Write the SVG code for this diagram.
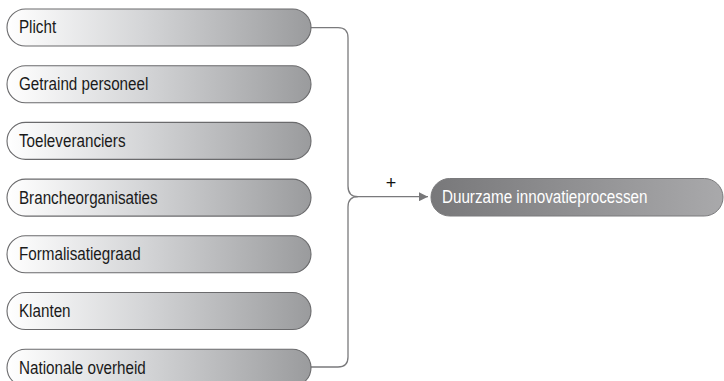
<svg xmlns="http://www.w3.org/2000/svg" width="724" height="381" viewBox="0 0 724 381">
<defs>
<linearGradient id="gSrc" x1="0" y1="0" x2="1" y2="0">
<stop offset="0" stop-color="#ffffff"/>
<stop offset="0.45" stop-color="#d4d5d7"/>
<stop offset="1" stop-color="#9a9b9d"/>
</linearGradient>
<linearGradient id="gTgt" x1="0" y1="0" x2="1" y2="0">
<stop offset="0" stop-color="#78787a"/>
<stop offset="1" stop-color="#a9a9ab"/>
</linearGradient>
<marker id="arr" viewBox="0 0 10 10" refX="10" refY="5" markerWidth="9" markerHeight="9" markerUnits="userSpaceOnUse" orient="auto">
<path d="M0,0 L10,5 L0,10 Z" fill="#777779"/>
</marker>
</defs>
<style>
.src{fill:url(#gSrc);stroke:#6a6a6c;stroke-width:1.1}
.tgt{fill:url(#gTgt);stroke:#7a7a7c;stroke-width:1}
.lbl{font-family:"Liberation Sans",Arial,sans-serif;font-size:17.5px;fill:#1a1a1a}
.tl{font-family:"Liberation Sans",Arial,sans-serif;font-size:17.5px;fill:#ffffff}
.con{fill:none;stroke:#7a7a7c;stroke-width:1.3}
.plus{font-family:"Liberation Sans",Arial,sans-serif;font-size:18px;fill:#111111}
</style>
<g id="connectors">
<path class="con" d="M311,27.7 H338 Q348,27.7 348,37.7 V186 Q348,196.7 358,196.7"/>
<path class="con" d="M311,367 H338 Q348,367 348,357 V207 Q348,196.7 358,196.7"/>
<path class="con" d="M358,196.7 H428" marker-end="url(#arr)"/>
<text class="plus" x="391" y="189" text-anchor="middle">+</text>
</g>
<g id="n1"><rect class="src" x="7" y="9" width="304" height="37" rx="18.5"/><text class="lbl" transform="scale(0.87 1)" x="21.8" y="33.5">Plicht</text></g>
<g id="n2"><rect class="src" x="7" y="65.7" width="304" height="37" rx="18.5"/><text class="lbl" transform="scale(0.87 1)" x="21.8" y="90.2">Getraind personeel</text></g>
<g id="n3"><rect class="src" x="7" y="122.4" width="304" height="37" rx="18.5"/><text class="lbl" transform="scale(0.87 1)" x="21.8" y="146.9">Toeleveranciers</text></g>
<g id="n4"><rect class="src" x="7" y="179.1" width="304" height="37" rx="18.5"/><text class="lbl" transform="scale(0.87 1)" x="21.8" y="203.6">Brancheorganisaties</text></g>
<g id="n5"><rect class="src" x="7" y="235.8" width="304" height="37" rx="18.5"/><text class="lbl" transform="scale(0.87 1)" x="21.8" y="260.3">Formalisatiegraad</text></g>
<g id="n6"><rect class="src" x="7" y="292.5" width="304" height="37" rx="18.5"/><text class="lbl" transform="scale(0.87 1)" x="21.8" y="317">Klanten</text></g>
<g id="n7"><rect class="src" x="7" y="349.2" width="304" height="37" rx="18.5"/><text class="lbl" transform="scale(0.87 1)" x="21.8" y="373.7">Nationale overheid</text></g>
<g id="target"><rect class="tgt" x="431" y="178.5" width="292" height="37.5" rx="18.7"/><text class="tl" transform="scale(0.87 1)" x="508" y="203.5">Duurzame innovatieprocessen</text></g>
</svg>
